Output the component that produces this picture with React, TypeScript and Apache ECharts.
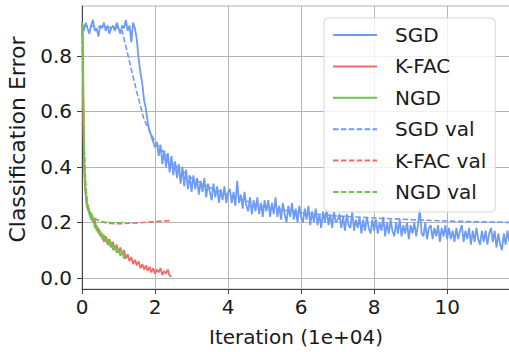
import React, { useEffect, useRef } from "react";
import * as echarts from "echarts";

// Iteration axis is in units of 1e+04
const sgdStep = 0.05;
const sgdErr = [
  // 0.00 - 1.45 plateau
  0.91, 0.89, 0.92, 0.90, 0.88, 0.91, 0.93, 0.89, 0.90, 0.87,
  0.91, 0.90, 0.92, 0.89, 0.91, 0.88, 0.90, 0.91, 0.89, 0.92,
  0.90, 0.88, 0.91, 0.90, 0.93, 0.89, 0.91, 0.85, 0.92, 0.90,
  // 1.50 - 2.00 drop
  0.86, 0.79, 0.74, 0.70, 0.64, 0.61, 0.56, 0.53, 0.51, 0.49, 0.47,
  // 2.05 - 3.00
  0.49, 0.44, 0.48, 0.41, 0.46, 0.40, 0.45, 0.38, 0.44, 0.37,
  0.42, 0.36, 0.41, 0.34, 0.40, 0.33, 0.39, 0.32, 0.37, 0.31,
  // 3.05 - 4.00
  0.37, 0.32, 0.36, 0.30, 0.35, 0.31, 0.36, 0.29, 0.34, 0.31,
  0.28, 0.34, 0.29, 0.33, 0.27, 0.32, 0.28, 0.33, 0.27, 0.31,
  // 4.05 - 5.00
  0.32, 0.27, 0.31, 0.26, 0.35, 0.27, 0.30, 0.25, 0.31, 0.26,
  0.24, 0.29, 0.23, 0.28, 0.24, 0.29, 0.23, 0.27, 0.22, 0.28,
  // 5.05 - 6.00
  0.24, 0.28, 0.22, 0.27, 0.23, 0.29, 0.22, 0.26, 0.21, 0.27,
  0.23, 0.20, 0.26, 0.22, 0.27, 0.21, 0.25, 0.20, 0.26, 0.22,
  // 6.05 - 7.00
  0.20, 0.25, 0.21, 0.26, 0.19, 0.24, 0.20, 0.25, 0.19, 0.23,
  0.18, 0.24, 0.20, 0.25, 0.19, 0.23, 0.18, 0.24, 0.20, 0.21,
  // 7.05 - 8.00
  0.23, 0.18, 0.22, 0.17, 0.23, 0.19, 0.18, 0.24, 0.17, 0.21,
  0.18, 0.22, 0.16, 0.21, 0.17, 0.22, 0.18, 0.16, 0.21, 0.17,
  // 8.05 - 9.00
  0.21, 0.16, 0.20, 0.17, 0.22, 0.15, 0.20, 0.16, 0.21, 0.17,
  0.15, 0.20, 0.16, 0.21, 0.15, 0.19, 0.16, 0.20, 0.14, 0.19,
  // 9.05 - 10.00
  0.16, 0.20, 0.15, 0.19, 0.25, 0.16, 0.15, 0.20, 0.14, 0.18,
  0.19, 0.14, 0.18, 0.15, 0.19, 0.13, 0.18, 0.15, 0.19, 0.14,
  // 10.05 - 11.00
  0.18, 0.14, 0.17, 0.13, 0.18, 0.14, 0.17, 0.19, 0.13, 0.17,
  0.14, 0.18, 0.12, 0.17, 0.13, 0.18, 0.14, 0.12, 0.17, 0.13,
  // 11.05 - 11.70
  0.17, 0.12, 0.16, 0.18, 0.13, 0.17, 0.11, 0.16, 0.12, 0.10,
  0.16, 0.12, 0.17, 0.13,
];

const sgdValIter = [0, 0.5, 1.0, 1.1, 1.3, 1.5, 1.7, 2.0, 2.5, 3.0, 3.5, 4.0, 5.0, 6.0, 7.0, 8.0, 9.0, 10.0, 11.0, 11.7];
const sgdValErr = [0.91, 0.905, 0.9, 0.89, 0.78, 0.67, 0.57, 0.49, 0.41, 0.36, 0.325, 0.3, 0.255, 0.235, 0.223, 0.216, 0.21, 0.205, 0.202, 0.2];

const kfacIter = [
  0, 0.01, 0.02, 0.03, 0.04, 0.05, 0.06, 0.08, 0.1, 0.12, 0.15,
  0.2, 0.25, 0.3, 0.35, 0.4, 0.45, 0.5, 0.55, 0.6, 0.65,
  0.7, 0.75, 0.8, 0.85, 0.9, 0.95, 1.0, 1.05, 1.1, 1.15,
  1.2, 1.25, 1.3, 1.35, 1.4, 1.45, 1.5, 1.55, 1.6, 1.65,
  1.7, 1.75, 1.8, 1.85, 1.9, 1.95, 2.0, 2.05, 2.1, 2.15,
  2.2, 2.25, 2.3, 2.35, 2.4, 2.45,
];
const kfacErr = [
  0.92, 0.9, 0.85, 0.72, 0.58, 0.47, 0.4, 0.33, 0.3, 0.28, 0.26,
  0.24, 0.23, 0.2, 0.21, 0.17, 0.18, 0.15, 0.16, 0.13, 0.15,
  0.12, 0.14, 0.11, 0.13, 0.1, 0.12, 0.09, 0.11, 0.085, 0.1,
  0.07, 0.085, 0.06, 0.075, 0.05, 0.065, 0.045, 0.06, 0.035, 0.05,
  0.03, 0.045, 0.025, 0.04, 0.02, 0.035, 0.015, 0.03, 0.02, 0.035,
  0.01, 0.025, 0.015, 0.03, 0.008, 0.005,
];

const kfacValIter = [0, 0.05, 0.1, 0.15, 0.2, 0.3, 0.4, 0.5, 0.6, 0.8, 1.0, 1.2, 1.5, 1.8, 2.1, 2.45];
const kfacValErr = [0.92, 0.5, 0.33, 0.26, 0.24, 0.218, 0.21, 0.205, 0.2, 0.196, 0.195, 0.196, 0.198, 0.201, 0.204, 0.207];

const ngdIter = [
  0, 0.01, 0.02, 0.03, 0.04, 0.05, 0.06, 0.08, 0.1, 0.12, 0.15,
  0.2, 0.25, 0.3, 0.35, 0.4, 0.45, 0.5, 0.55, 0.6, 0.65,
  0.7, 0.75, 0.8, 0.85, 0.9, 0.95, 1.0, 1.05, 1.1, 1.15, 1.18,
];
const ngdErr = [
  0.92, 0.91, 0.88, 0.78, 0.62, 0.5, 0.42, 0.34, 0.31, 0.27, 0.25,
  0.23, 0.21, 0.22, 0.18, 0.19, 0.16, 0.17, 0.14, 0.155, 0.13,
  0.14, 0.115, 0.13, 0.1, 0.115, 0.09, 0.105, 0.08, 0.095, 0.07, 0.075,
];

const ngdValIter = [0, 0.05, 0.1, 0.15, 0.2, 0.3, 0.4, 0.5, 0.6, 0.8, 1.0, 1.18];
const ngdValErr = [0.92, 0.52, 0.34, 0.27, 0.245, 0.22, 0.21, 0.204, 0.201, 0.199, 0.199, 0.2];

const yTicks = [0, 0.2, 0.4, 0.6, 0.8];

const BLUE = "#6f9cf3";
const RED = "#ee6b67";
const GREEN = "#6cc64b";
const FONT = "DejaVu Sans";

function zip(xs: number[], ys: number[]) {
  return xs.map((x, i) => [x, ys[i]]);
}

function lineSeries(name: string, data: number[][], color: string, dashed: boolean) {
  return {
    name,
    type: "line",
    data,
    symbol: "none",
    showSymbol: false,
    color,
    itemStyle: { color },
    lineStyle: { color, width: dashed ? 1.6 : 1.8, type: dashed ? [5.5, 2.4] : "solid" },
    emphasis: { disabled: true },
  };
}

export default function App() {
  const ref = useRef<HTMLDivElement>(null);
  useEffect(() => {
    const chart = echarts.init(ref.current!, null, { renderer: "svg" });
    const sgdData = sgdErr.map((v, i) => [+(i * sgdStep).toFixed(2), v]);
    chart.setOption({
      animation: false,
      textStyle: { fontFamily: FONT },
      grid: {
        left: 82,
        top: 6,
        right: -1,
        bottom: 63,
        show: true,
        borderColor: "#b5b5b5",
        borderWidth: 1,
        outerBoundsMode: "none",
        containLabel: false,
      },
      legend: {
        orient: "vertical",
        left: 324,
        top: 18,
        padding: [7, 9, 10, 8],
        itemWidth: 44,
        itemHeight: 14,
        itemGap: 11.4,
        backgroundColor: "rgba(255,255,255,0.8)",
        borderColor: "#d6d6d6",
        borderWidth: 1,
        borderRadius: 4,
        itemStyle: { opacity: 0 },
        textStyle: {
          fontFamily: FONT,
          fontSize: 20,
          lineHeight: 20,
          color: "#1a1a1a",
          padding: [0, 0, 0, 13],
        },
        data: ["SGD", "K-FAC", "NGD", "SGD val", "K-FAC val", "NGD val"],
      },
      xAxis: {
        type: "value",
        min: 0,
        max: 11.72,
        interval: 2,
        name: "Iteration (1e+04)",
        nameLocation: "middle",
        nameGap: 38,
        nameTextStyle: { fontFamily: FONT, fontSize: 20, color: "#1a1a1a" },
        axisLine: { show: true, onZero: false, lineStyle: { color: "#444", width: 1 } },
        axisTick: { show: true, length: 5, lineStyle: { color: "#444" } },
        axisLabel: { fontFamily: FONT, fontSize: 20, color: "#1a1a1a", margin: 8, showMaxLabel: false },
        splitLine: { show: true, lineStyle: { color: "#b5b5b5", width: 1 } },
      },
      yAxis: {
        type: "value",
        min: -0.04,
        max: 0.98,
        name: "Classification Error",
        nameLocation: "middle",
        nameGap: 54,
        nameTextStyle: { fontFamily: FONT, fontSize: 22, color: "#1a1a1a", padding: [0, 0, 0, 16] },
        axisLine: { show: true, onZero: false, lineStyle: { color: "#444", width: 1 } },
        axisTick: { show: true, length: 5, lineStyle: { color: "#444" }, customValues: yTicks },
        axisLabel: {
          fontFamily: FONT,
          fontSize: 20,
          color: "#1a1a1a",
          margin: 10,
          customValues: yTicks,
          formatter: (v: number) => v.toFixed(1),
        },
        splitLine: { show: true, lineStyle: { color: "#b5b5b5", width: 1 } },
      },
      series: [
        lineSeries("SGD", sgdData, BLUE, false),
        lineSeries("K-FAC", zip(kfacIter, kfacErr), RED, false),
        lineSeries("NGD", zip(ngdIter, ngdErr), GREEN, false),
        lineSeries("SGD val", zip(sgdValIter, sgdValErr), BLUE, true),
        lineSeries("K-FAC val", zip(kfacValIter, kfacValErr), RED, true),
        lineSeries("NGD val", zip(ngdValIter, ngdValErr), GREEN, true),
      ],
    });
    return () => chart.dispose();
  }, []);
  return (
    <div
      ref={ref}
      style={{ position: "absolute", left: 0, top: 0, width: 509, height: 352, background: "#fff" }}
    />
  );
}
